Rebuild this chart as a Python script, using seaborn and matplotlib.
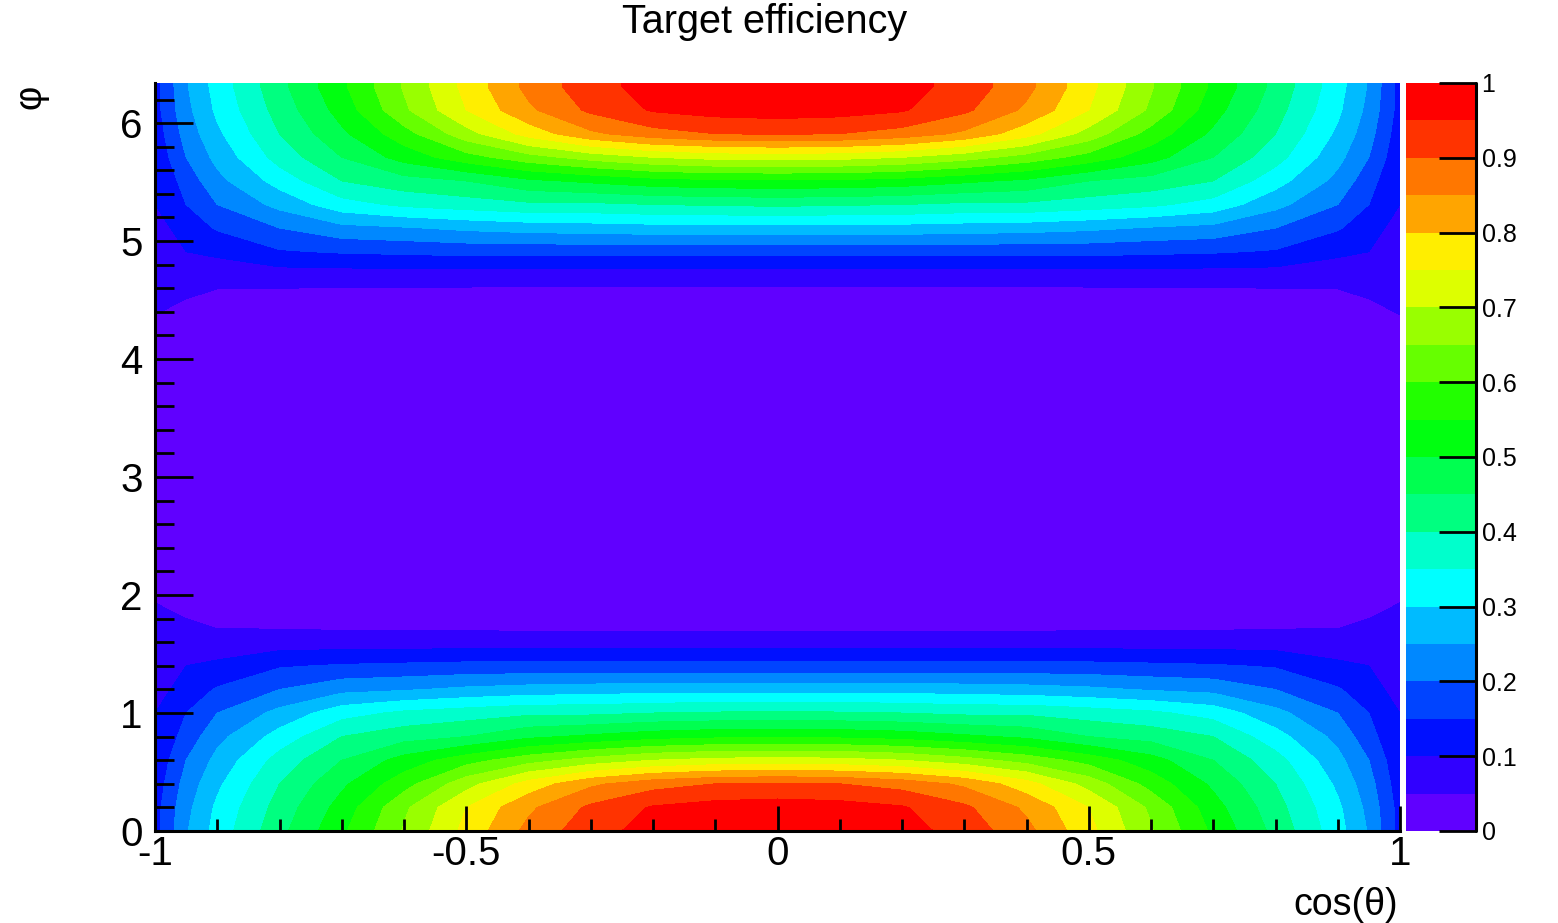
import numpy as np
import matplotlib
matplotlib.use("Agg")
import matplotlib.pyplot as plt
from matplotlib.colors import ListedColormap, BoundaryNorm
from matplotlib.ticker import MultipleLocator, FormatStrFormatter
import seaborn as sns

# ---- data ----
# cos(theta) grid
cos_theta = [-1.0, -0.95, -0.9, -0.8, -0.7, -0.6, -0.5, -0.4, -0.3, -0.2, -0.1, 0.0,
             0.1, 0.2, 0.3, 0.4, 0.5, 0.6, 0.7, 0.8, 0.9, 0.95, 1.0]
# phi rows of the lower band and of the upper band (middle band is empty)
phi_low = [0.0, 0.2, 0.4, 0.6, 0.8, 1.0, 1.2, 1.4, 1.6, 1.8, 2.0]
phi_high = [4.31, 4.51, 4.71, 4.91, 5.11, 5.31, 5.51, 5.71, 5.91, 6.11, 6.31, 6.34]

# efficiency for cos(theta) = -1 .. 0 (one row per phi_low value)
# the map is mirror-symmetric in cos(theta) and between the two phi bands
eff_quarter = [
    [0.13, 0.245, 0.32, 0.435, 0.54, 0.655, 0.765, 0.865, 0.93, 0.97, 0.99, 1.0],
    [0.13, 0.235, 0.31, 0.42, 0.52, 0.64, 0.75, 0.84, 0.91, 0.955, 0.97, 0.975],
    [0.12, 0.22, 0.29, 0.40, 0.49, 0.58, 0.68, 0.77, 0.84, 0.88, 0.90, 0.905],
    [0.11, 0.20, 0.265, 0.37, 0.45, 0.52, 0.58, 0.63, 0.67, 0.70, 0.715, 0.72],
    [0.10, 0.17, 0.235, 0.32, 0.40, 0.43, 0.45, 0.49, 0.51, 0.53, 0.54, 0.54],
    [0.10, 0.15, 0.20, 0.265, 0.33, 0.36, 0.375, 0.39, 0.39, 0.40, 0.405, 0.41],
    [0.08, 0.12, 0.155, 0.20, 0.235, 0.245, 0.26, 0.27, 0.275, 0.28, 0.28, 0.28],
    [0.07, 0.10, 0.11, 0.145, 0.155, 0.16, 0.165, 0.165, 0.165, 0.165, 0.165, 0.165],
    [0.065, 0.07, 0.07, 0.075, 0.075, 0.075, 0.075, 0.075, 0.075, 0.075, 0.075, 0.075],
    [0.06, 0.05, 0.035, 0.03, 0.025, 0.025, 0.025, 0.02, 0.02, 0.02, 0.02, 0.02],
    [0.045, 0.02, 0.01, 0.0, 0.0, 0.0, 0.0, 0.0, 0.0, 0.0, 0.0, 0.0],
]

palette_hex = ["#6000ff", "#3000ff", "#0010ff", "#0044ff", "#0088ff",
               "#00bbff", "#00ffff", "#00ffcc", "#00ff80", "#00ff50",
               "#00ff10", "#22ff00", "#66ff00", "#99ff00", "#ddff00",
               "#ffee00", "#ffa500", "#ff7700", "#ff3300", "#ff0000"]

# assemble full grid from the quarter
q = np.array(eff_quarter)
half = np.hstack([q, q[:, -2::-1]])
upper = np.vstack([half[::-1], half[:1]])
eff = np.vstack([half, upper])
phi = phi_low + phi_high

# ---- plotting ----
sns.set_theme(style="white")
plt.rcParams["font.family"] = ["Liberation Sans", "DejaVu Sans"]
plt.rcParams["axes.unicode_minus"] = False
plt.rcParams["text.color"] = "black"
plt.rcParams["xtick.color"] = "black"
plt.rcParams["ytick.color"] = "black"

W, H = 1558, 923
fig = plt.figure(figsize=(W / 100, H / 100), dpi=100)
ax = fig.add_axes([155 / W, (H - 831) / H, (1400 - 155) / W, (831 - 83) / H])
cax = fig.add_axes([1406 / W, (H - 831) / H, 70 / W, (831 - 83) / H])

cmap = ListedColormap(sns.color_palette(palette_hex))
levels = np.linspace(0, 1, 21)
norm = BoundaryNorm(levels, cmap.N)
cs = ax.contourf(cos_theta, phi, eff, levels=levels, cmap=cmap, norm=norm)

ax.set_axisbelow(False)
ax.set_xlim(-1, 1)
ax.set_ylim(0, 6.34)
for s in ["top", "right"]:
    ax.spines[s].set_visible(False)
for s in ["left", "bottom"]:
    ax.spines[s].set_color("black")
    ax.spines[s].set_linewidth(2.2)
    ax.spines[s].set_zorder(5)

ax.xaxis.set_major_locator(MultipleLocator(0.5))
ax.xaxis.set_minor_locator(MultipleLocator(0.1))
ax.yaxis.set_major_locator(MultipleLocator(1))
ax.yaxis.set_minor_locator(MultipleLocator(0.2))
ax.xaxis.set_major_formatter(FormatStrFormatter("%g"))
ax.yaxis.set_major_formatter(FormatStrFormatter("%g"))
ax.tick_params(axis="x", which="major", direction="in", length=18, width=2,
               labelsize=29, pad=3, colors="black", bottom=True, top=False)
ax.tick_params(axis="x", which="minor", direction="in", length=9, width=2,
               bottom=True, top=False, colors="black")
ax.tick_params(axis="y", which="major", direction="in", length=27, width=2,
               labelsize=29, pad=9, colors="black", left=True, right=False)
ax.tick_params(axis="y", which="minor", direction="in", length=14, width=2,
               left=True, right=False, colors="black")

cb = fig.colorbar(cs, cax=cax, ticks=np.linspace(0, 1, 11))
cb.outline.set_visible(False)
cb.minorticks_off()
cax.set_axisbelow(False)
cax.yaxis.set_ticks_position("right")
cax.yaxis.set_major_formatter(FormatStrFormatter("%g"))
cax.tick_params(axis="y", direction="in", length=27, width=2, labelsize=18,
                pad=4, colors="black", right=True, left=False)
cax.plot([1, 1], [0, 1], transform=cax.transAxes, color="black", lw=2.2,
         clip_on=False)

fig.text(765 / W, 1 - 22 / H, "Target efficiency", ha="center", va="center",
         fontsize=28.5)
fig.text(1398 / W, 1 - 905 / H, "cos(θ)", ha="right", va="center", fontsize=27)
fig.text(30 / W, 1 - 97 / H, "φ", ha="center", va="center", rotation=90,
         fontsize=27)

fig.savefig("out.png", dpi=100, facecolor="white")
